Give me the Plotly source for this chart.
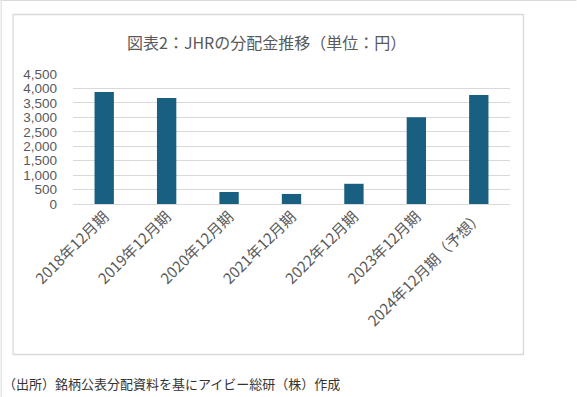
import plotly.graph_objects as go

categories = ["2018年12月期", "2019年12月期", "2020年12月期", "2021年12月期",
              "2022年12月期", "2023年12月期", "2024年12月期（予想）"]
dividends = [3878, 3669, 416, 348, 700, 3000, 3775]
y_ticks = [0, 500, 1000, 1500, 2000, 2500, 3000, 3500, 4000, 4500]
y_tick_labels = ["0", "500", "1,000", "1,500", "2,000", "2,500", "3,000", "3,500", "4,000", "4,500"]
title_text = "図表2：JHRの分配金推移（単位：円）"
source_text = "（出所）銘柄公表分配資料を基にアイビー総研（株）作成"

W, H = 577, 397
PL, PR, PT, PB = 72.5, 510.5, 74, 204


def fx(px):
    return (px - PL) / (PR - PL)


def fy(py):
    return (PB - py) / (PB - PT)


GRAY = "#d9d9d9"
TEXT = "#595959"
FONT = "Liberation Sans, Noto Sans CJK JP, sans-serif"

fig = go.Figure(go.Bar(x=categories, y=dividends, marker_color="#185f81",
                       marker_line_width=0, width=0.31))

fig.update_layout(
    width=W, height=H,
    margin=dict(l=PL, r=W - PR, t=PT, b=H - PB, pad=0),
    paper_bgcolor="white", plot_bgcolor="white",
    showlegend=False,
    font=dict(family=FONT, color=TEXT, size=14),
    shapes=[
        dict(type="line", xref="paper", yref="paper", x0=fx(0), x1=fx(W), y0=fy(0.5), y1=fy(0.5),
             line=dict(color=GRAY, width=1)),
        dict(type="line", xref="paper", yref="paper", x0=fx(0.5), x1=fx(0.5), y0=fy(0), y1=fy(H),
             line=dict(color=GRAY, width=1)),
        dict(type="rect", xref="paper", yref="paper", x0=fx(12.5), x1=fx(524), y0=fy(14.5), y1=fy(354.5),
             line=dict(color=GRAY, width=1.3), fillcolor="rgba(0,0,0,0)", layer="below"),
    ],
    annotations=[
        dict(text=title_text, xref="paper", yref="paper", x=fx(266.5), y=fy(42),
             xanchor="center", yanchor="middle", showarrow=False,
             font=dict(family="Noto Sans CJK JP", size=16, color=TEXT)),
        dict(text=source_text, xref="paper", yref="paper", x=fx(0.5), y=fy(383),
             xanchor="left", yanchor="middle", showarrow=False,
             font=dict(family="Noto Sans CJK JP", size=13, color="#333333")),
    ],
)
fig.update_yaxes(range=[0, 4500], tickvals=y_ticks, ticktext=y_tick_labels,
                 showgrid=True, gridcolor=GRAY, gridwidth=1,
                 zeroline=True, zerolinecolor=GRAY, zerolinewidth=1,
                 showline=False, ticks="", ticklabelstandoff=15,
                 tickfont=dict(family=FONT, size=13.5, color=TEXT))
fig.update_xaxes(showgrid=False, showline=False, ticks="", tickangle=-45,
                 ticklabelstandoff=0,
                 tickfont=dict(family="Noto Sans CJK JP", size=15, color=TEXT))

fig.write_html("out.html", config={"displayModeBar": False},
               post_script="document.body.style.margin='0';document.body.style.overflow='hidden';")
